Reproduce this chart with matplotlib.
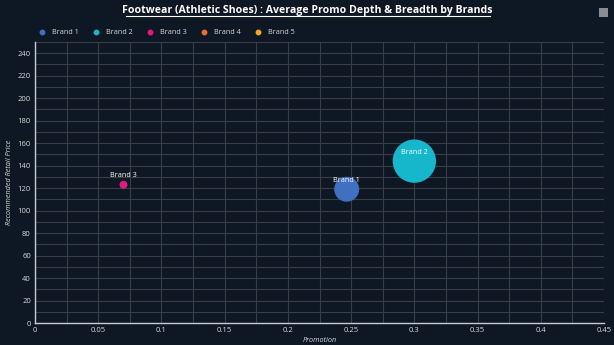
import matplotlib
matplotlib.use("Agg")
import matplotlib.pyplot as plt
from matplotlib.patches import Rectangle
from matplotlib.ticker import MultipleLocator, FuncFormatter

brands = ["Brand 1", "Brand 2", "Brand 3", "Brand 4", "Brand 5"]
colors = ["#3f70c1", "#16b7cb", "#e2197f", "#f26a2e", "#f5a623"]
promotion = [0.2465, 0.300, 0.070]
retail_price = [119, 144, 123]
bubble_size = [156, 470, 16]

plt.rcParams['font.family'] = ['Open Sans', 'DejaVu Sans']
bg = "#0e1724"
fig = plt.figure(figsize=(6.14, 3.45), dpi=100, facecolor=bg)
ax = fig.add_axes([35/614, 1-323/345, 569/614, 281/345], facecolor=bg)

for i in range(len(promotion)):
    ax.scatter(promotion[i], retail_price[i], s=bubble_size[i]*2.07, color=colors[i],
               edgecolors='none', zorder=3)
    ax.annotate(brands[i], (promotion[i], retail_price[i]), xytext=(0, 6.5),
                textcoords='offset points', ha='center', va='center',
                color='white', fontsize=5.2, zorder=4)

ax.set_xlim(0, 0.45)
ax.set_ylim(0, 250)
ax.xaxis.set_major_locator(MultipleLocator(0.05))
ax.xaxis.set_minor_locator(MultipleLocator(0.025))
ax.yaxis.set_major_locator(MultipleLocator(20))
ax.yaxis.set_minor_locator(MultipleLocator(10))
ax.xaxis.set_major_formatter(FuncFormatter(lambda v, p: ('%g' % round(v, 3))))
ax.grid(True, which='both', color='#393e44', linewidth=0.8)
ax.set_axisbelow(True)
for s in ['top', 'right']:
    ax.spines[s].set_visible(False)
for s in ['left', 'bottom']:
    ax.spines[s].set_color('#c8ccd0')
    ax.spines[s].set_linewidth(1.0)
ax.tick_params(which='both', length=0, colors='#d8dadc', labelsize=5.5, pad=3)
ax.set_xlabel('Promotion', fontsize=5.2, style='italic', color='#d8dadc', labelpad=2)
ax.set_ylabel('Recommended Retail Price', fontsize=5.2, style='italic', color='#d8dadc', labelpad=3)

fig.text(0.5, 1-10/345, 'Footwear (Athletic Shoes) : Average Promo Depth & Breadth by Brands',
         ha='center', va='center', color='white', fontsize=7.6, fontweight='bold')
# underline
fig.add_artist(plt.Line2D([126/614, 490/614], [1-16/345, 1-16/345], color='white', linewidth=0.8))

# legend
lx = [42, 96, 150, 204, 258]
for i, b in enumerate(brands):
    fig.add_artist(plt.Line2D([lx[i]/614], [1-32/345], marker='o', markersize=3.2,
                              color=colors[i], linestyle='none'))
    fig.text((lx[i]+10)/614, 1-32/345, b, ha='left', va='center', color='#d8dadc', fontsize=5.2)

fig.add_artist(Rectangle((599/614, 1-17/345), 9/614, 9/345, transform=fig.transFigure,
                         facecolor='#8a8d90', edgecolor='none'))

fig.savefig('out.png', dpi=100, facecolor=bg)
